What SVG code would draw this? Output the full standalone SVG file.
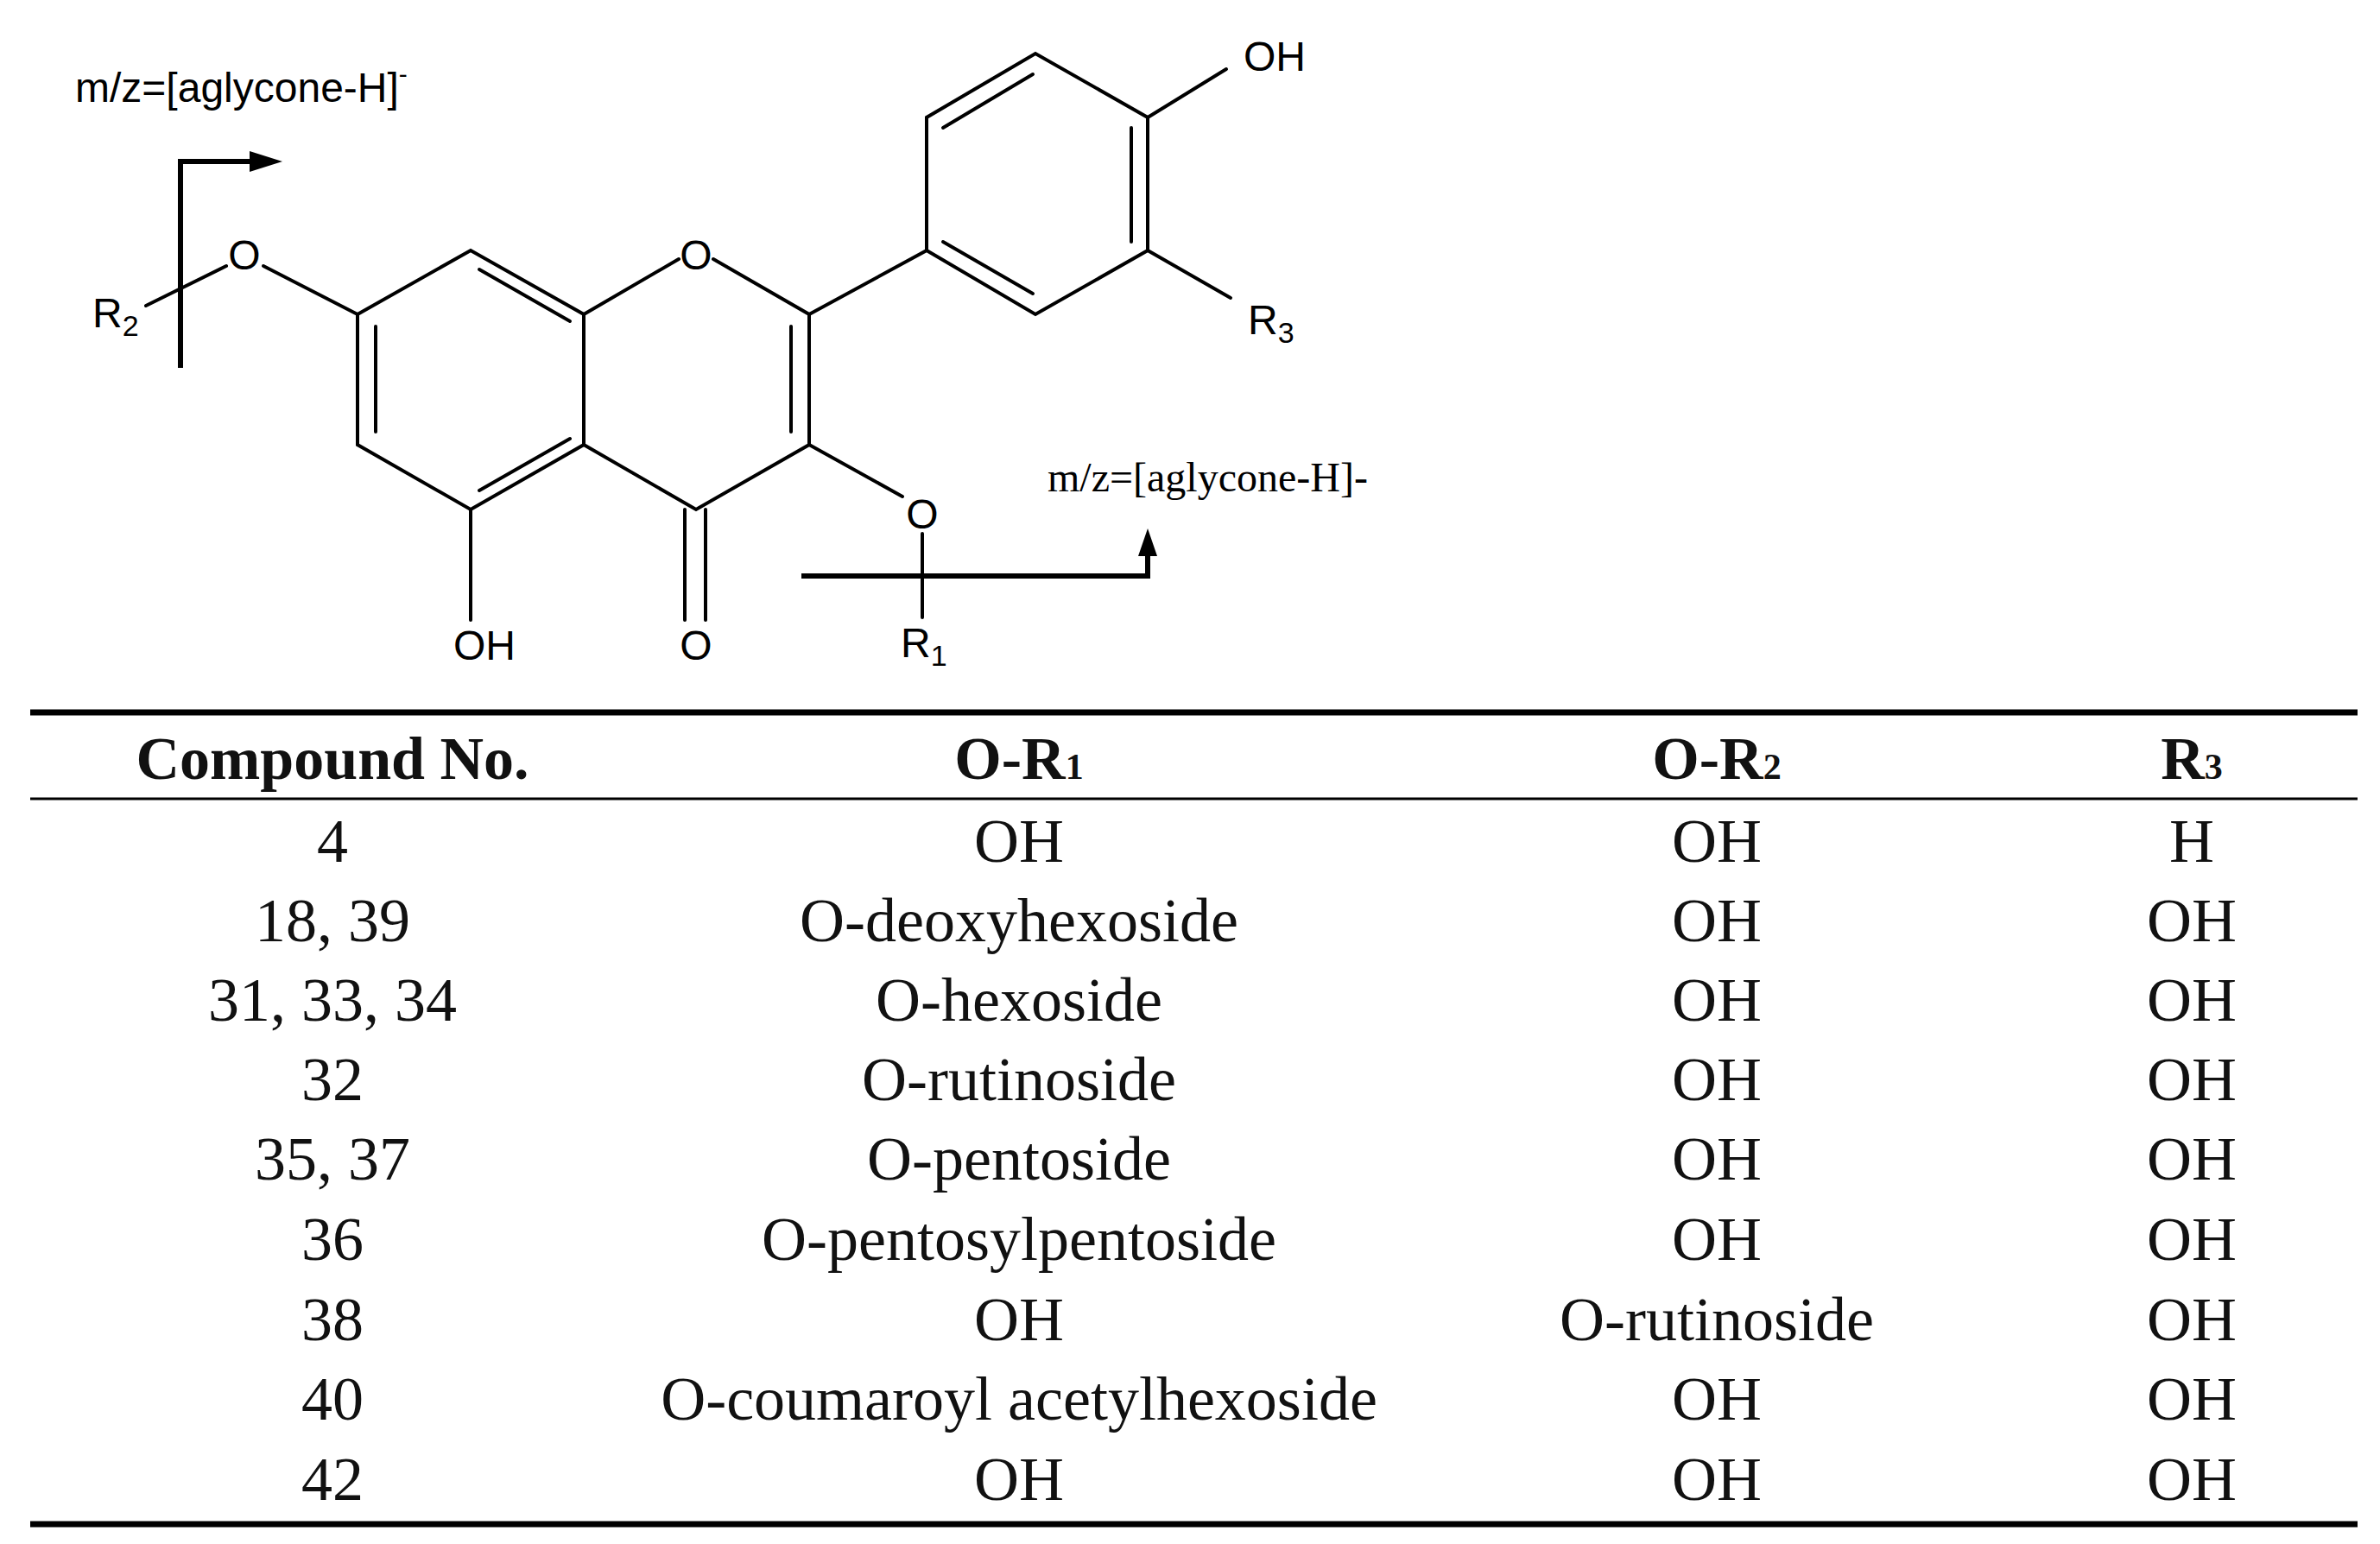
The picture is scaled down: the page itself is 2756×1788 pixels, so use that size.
<svg xmlns="http://www.w3.org/2000/svg" width="2756" height="1788" viewBox="0 0 2756 1788">
<defs>
<style>
.b{stroke:#000;stroke-width:4;fill:none;stroke-linecap:round}
.ar{stroke:#000;stroke-width:6;fill:none}
.s{font-family:"Liberation Sans",Arial,sans-serif;font-size:48px;fill:#000}
.t{font-family:"Liberation Serif","Times New Roman",serif;fill:#000}
.c{font-family:"Liberation Serif","Times New Roman",serif;font-size:72px;fill:#111;text-anchor:middle}
.h{font-family:"Liberation Serif","Times New Roman",serif;font-size:70px;font-weight:bold;fill:#111;text-anchor:middle}
</style>
</defs>
<rect width="2756" height="1788" fill="#fff"/>
<g id="structure">
<g class="b">
<polyline points="414,364 545,290 676,364 676,515 545,590 414,515 414,364"/>
<line x1="555" y1="312" x2="660" y2="372"/>
<line x1="435" y1="378" x2="435" y2="500"/>
<line x1="660" y1="508" x2="555" y2="568"/>
<polyline points="676,364 786,300"/>
<polyline points="826,300 937,364 937,515 806,590 676,515"/>
<line x1="916" y1="378" x2="916" y2="500"/>
<line x1="793" y1="590" x2="793" y2="718"/>
<line x1="817" y1="590" x2="817" y2="718"/>
<line x1="545" y1="590" x2="545" y2="718"/>
<polyline points="937,364 1073,290 1073,136 1199,62 1329,136 1329,290 1199,364 1073,290"/>
<line x1="1092" y1="148" x2="1196" y2="86"/>
<line x1="1310" y1="148" x2="1310" y2="280"/>
<line x1="1092" y1="280" x2="1196" y2="340"/>
<line x1="1329" y1="136" x2="1420" y2="80"/>
<line x1="1329" y1="290" x2="1425" y2="345"/>
<line x1="414" y1="364" x2="305" y2="308"/>
<line x1="262" y1="308" x2="169" y2="354"/>
<line x1="937" y1="515" x2="1045" y2="575"/>
<line x1="1068" y1="618" x2="1068" y2="715"/>
</g>
<text class="s" x="283" y="312" text-anchor="middle">O</text>
<text class="s" x="806" y="312" text-anchor="middle">O</text>
<text class="s" x="1068" y="612" text-anchor="middle">O</text>
<text class="s" x="806" y="764" text-anchor="middle">O</text>
<text class="s" x="561" y="764" text-anchor="middle">OH</text>
<text class="s" x="1440" y="82">OH</text>
<text class="s" x="1445" y="387">R<tspan font-size="34" dy="10">3</tspan></text>
<text class="s" x="1043" y="761">R<tspan font-size="34" dy="10">1</tspan></text>
<text class="s" x="107" y="379">R<tspan font-size="34" dy="10">2</tspan></text>
</g>
<g id="connectors">
<polyline class="ar" points="209,426 209,187 292,187"/>
<polygon points="327,187 289,175 289,199" fill="#000"/>
<polyline class="ar" points="928,667 1329,667 1329,640"/>
<polygon points="1329,612 1318,644 1340,644" fill="#000"/>
</g>
<g id="labels">
<text class="s" x="87" y="118" font-size="50">m/z=[aglycone-H]<tspan font-size="30" dy="-22">-</tspan></text>
<text class="t" x="1213" y="569" font-size="48">m/z=[aglycone-H]-</text>
</g>
<g id="table">
<line x1="35" y1="825" x2="2730" y2="825" stroke="#000" stroke-width="7"/>
<line x1="35" y1="925" x2="2730" y2="925" stroke="#000" stroke-width="3"/>
<line x1="35" y1="1765" x2="2730" y2="1765" stroke="#000" stroke-width="7"/>
<text class="h" x="385" y="902">Compound No.</text>
<text class="h" x="1180" y="902">O-R<tspan font-size="42">1</tspan></text>
<text class="h" x="1988" y="902">O-R<tspan font-size="42">2</tspan></text>
<text class="h" x="2538" y="902">R<tspan font-size="42">3</tspan></text>
<g class="c">
<text x="385" y="998">4</text><text x="1180" y="998">OH</text><text x="1988" y="998">OH</text><text x="2538" y="998">H</text>
<text x="385" y="1090">18, 39</text><text x="1180" y="1090">O-deoxyhexoside</text><text x="1988" y="1090">OH</text><text x="2538" y="1090">OH</text>
<text x="385" y="1182">31, 33, 34</text><text x="1180" y="1182">O-hexoside</text><text x="1988" y="1182">OH</text><text x="2538" y="1182">OH</text>
<text x="385" y="1274">32</text><text x="1180" y="1274">O-rutinoside</text><text x="1988" y="1274">OH</text><text x="2538" y="1274">OH</text>
<text x="385" y="1366">35, 37</text><text x="1180" y="1366">O-pentoside</text><text x="1988" y="1366">OH</text><text x="2538" y="1366">OH</text>
<text x="385" y="1459">36</text><text x="1180" y="1459">O-pentosylpentoside</text><text x="1988" y="1459">OH</text><text x="2538" y="1459">OH</text>
<text x="385" y="1552">38</text><text x="1180" y="1552">OH</text><text x="1988" y="1552">O-rutinoside</text><text x="2538" y="1552">OH</text>
<text x="385" y="1644">40</text><text x="1180" y="1644">O-coumaroyl acetylhexoside</text><text x="1988" y="1644">OH</text><text x="2538" y="1644">OH</text>
<text x="385" y="1737">42</text><text x="1180" y="1737">OH</text><text x="1988" y="1737">OH</text><text x="2538" y="1737">OH</text>
</g>
</g>
</svg>
